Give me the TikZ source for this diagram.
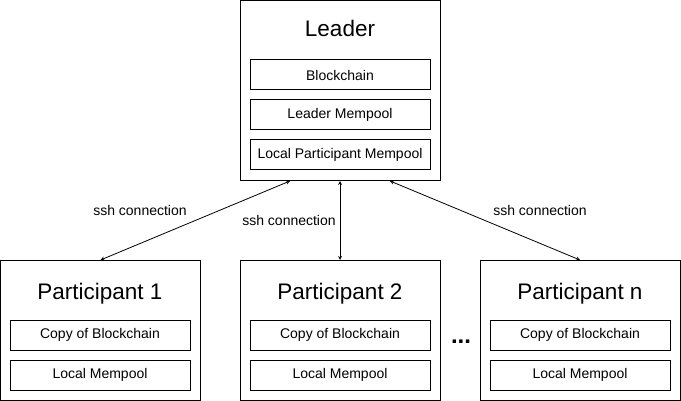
\documentclass[tikz,border=0pt]{standalone}
\usepackage{fontspec}
\setmainfont{Liberation Sans}
\tikzset{
    machine/.style={draw, line width=1pt, minimum width=200pt, inner sep=0pt},
    store/.style={draw, line width=1pt, minimum width=180pt, minimum height=30pt, inner sep=0pt, font=\fontsize{14}{17}\selectfont},
    hdr/.style={anchor=base, font=\fontsize{22.5}{27}\selectfont},
    conn/.style={anchor=base, font=\fontsize{14}{17}\selectfont},
}
\begin{document}
\begin{tikzpicture}[x=1pt, y=-1pt, >=stealth]
    \useasboundingbox (0,0) rectangle (681,401);

    % Leader
    \node[machine, minimum height=180pt] (leader) at (340, 90.5) {};
    \node[hdr] (leadert) at (340, 37) {Leader};
    \node[store] (lchain) at (340, 75) {Blockchain};
    \node[store] (lmem) at (340, 115) {Leader Mempool};
    \node[store] (lpmem) at (340, 155) {Local Participant Mempool};

    % Participant 1
    \node[machine, minimum height=140pt] (p1) at (100.5, 330.5) {};
    \node[hdr] (p1t) at (100, 299) {Participant 1};
    \node[store] (p1chain) at (100, 335) {Copy of Blockchain};
    \node[store] (p1mem) at (100, 375) {Local Mempool};

    % Participant 2
    \node[machine, minimum height=140pt] (p2) at (340, 330.5) {};
    \node[hdr] (p2t) at (340, 299) {Participant 2};
    \node[store] (p2chain) at (340, 335) {Copy of Blockchain};
    \node[store] (p2mem) at (340, 375) {Local Mempool};

    % Participant n
    \node[machine, minimum height=140pt] (pn) at (580, 330.5) {};
    \node[hdr] (pnt) at (580, 299) {Participant n};
    \node[store] (pnchain) at (580, 335) {Copy of Blockchain};
    \node[store] (pnmem) at (580, 375) {Local Mempool};

    \node[anchor=base, font=\fontsize{24}{28}\selectfont\bfseries] (dots) at (461, 343) {...};

    % ssh connections
    \draw[<->, line width=0.8pt] ([xshift=-50pt]leader.south) -- (p1.north);
    \draw[<->, line width=0.8pt] (leader.south) -- (p2.north);
    \draw[<->, line width=0.8pt] ([xshift=50pt]leader.south) -- (pn.north);

    \node[conn] (ssh1) at (140, 216) {ssh connection};
    \node[conn] (ssh2) at (289, 226) {ssh connection};
    \node[conn] (ssh3) at (540, 216) {ssh connection};

\end{tikzpicture}
\end{document}
